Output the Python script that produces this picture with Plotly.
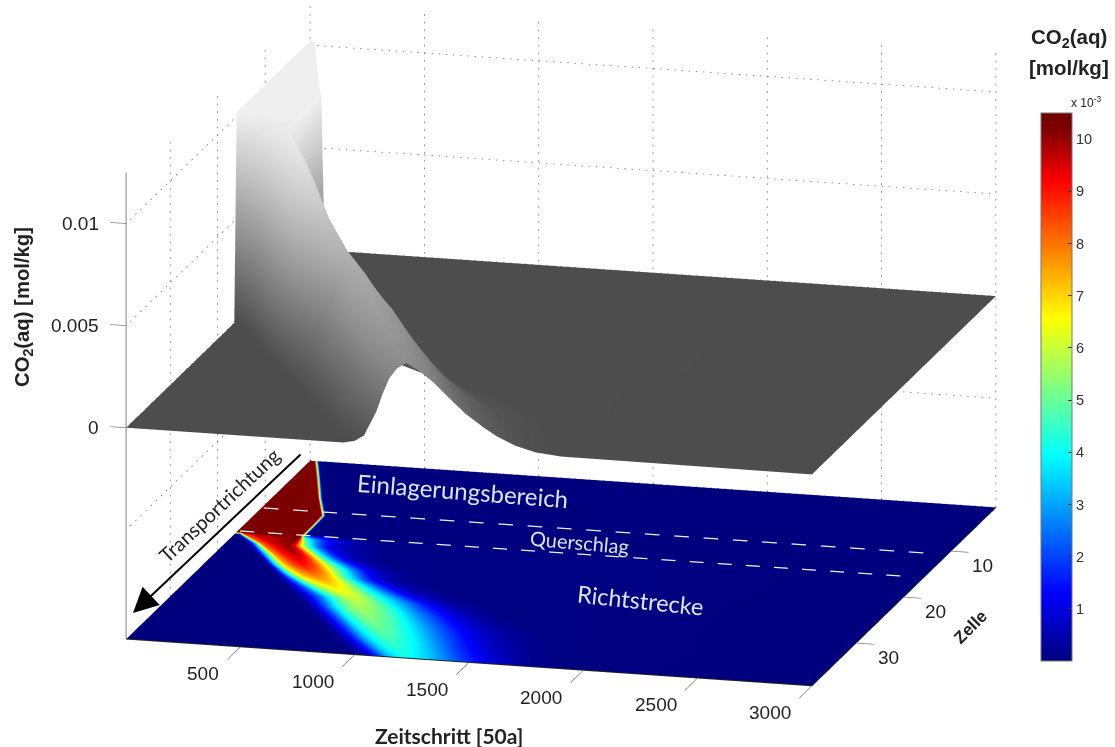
import numpy as np
import plotly.graph_objects as go

# ---------- data ----------
# One row per cell: the time steps and the concentration (1e-3 mol/kg) read along that cell.
CELLS = [0.5,4,8,11.5,14,15.5,16,16.5,18,20,22,24,26,28,30,33,36,39.3]
ROW_TIMES = [
 [0,2,3,4,5,6,7,10,19,39,40,41,42,43,44,47,52,57,3000],
 [0,15,16,17,19,23,27,40,100,120,121,122,123,124,125,128,133,138,3000],
 [0,20,21,22,24,28,32,50,190,210,211,212,213,214,215,218,223,228,3000],
 [0,20,21,22,24,28,32,50,277,297,298,299,300,301,302,305,310,315,3000],
 [0,20,21,22,24,28,32,50,280,300,301,302,303,304,305,308,313,318,3000],
 [0,20,21,22,24,28,32,50,280,300,301,302,303,304,305,308,313,318,3000],
 [0,20,21,22,24,28,32,50,280,282,284,288,292,298,325,390,470,620,3000],
 [0,20,22,25,32,40,50,100,280,287,292,302,313,347,380,438,535,660,3000],
 [0,82,90,102,125,135,150,200,265,295,307,332,355,385,412,458,548,680,3000],
 [0,164,172,182,210,228,250,295,345,385,410,438,458,493,520,565,620,730,3000],
 [0,246,255,265,290,310,335,375,420,470,505,550,590,630,665,715,785,900,3000],
 [0,328,340,355,385,405,430,465,520,570,605,645,680,720,755,810,885,1000,3000],
 [0,410,425,445,500,525,555,595,640,690,730,785,830,875,915,980,1070,1190,3000],
 [0,492,515,540,610,645,685,725,765,815,860,930,985,1045,1095,1165,1255,1380,3000],
 [0,574,600,625,680,715,750,795,840,905,970,1040,1095,1165,1225,1305,1405,1530,3000],
 [0,697,725,750,810,840,875,920,965,1030,1095,1175,1240,1315,1380,1480,1590,1740,3000],
 [0,820,850,875,935,965,1000,1040,1085,1150,1215,1295,1355,1430,1495,1590,1700,1850,3000],
 [0,950,1000,1040,1095,1120,1150,1185,1225,1275,1340,1420,1480,1560,1620,1705,1790,1900,3000],
]
ROW_VALUES = [
 [10.2,10.2,10.2,10.2,10.2,10.2,10.2,10.2,10.2,0,0,0,0,0,0,0,0,0,0],
 [10.2,10.2,10.2,10.2,10.2,10.2,10.2,10.2,10.2,0,0,0,0,0,0,0,0,0,0],
 [10.2,10.2,10.2,10.2,10.2,10.2,10.2,10.2,10.2,0,0,0,0,0,0,0,0,0,0],
 [10.2,10.2,10.2,10.2,10.2,10.2,10.2,10.2,10.2,0,0,0,0,0,0,0,0,0,0],
 [10.2,10.2,10.2,10.2,10.2,10.2,10.2,10.2,10.2,0,0,0,0,0,0,0,0,0,0],
 [10.2,10.2,10.2,10.2,10.2,10.2,10.2,10.2,10.2,0,0,0,0,0,0,0,0,0,0],
 [10.2,10.2,10.2,10.2,10.2,10.2,10.2,10.2,10.2,9.5,8.2,6.2,4.6,3.1,2.05,1.03,0.41,0.1,0],
 [0,0,0.31,1.02,4.1,6.1,8.2,9.5,10.2,9.5,8.2,6.2,4.6,3.1,2.05,1.03,0.41,0.1,0],
 [0,0,0.3,1.01,4.05,6.05,8.1,9.4,10.1,9.4,8.1,6.05,4.55,3.03,2.02,1.01,0.4,0.1,0],
 [0,0,0.29,0.97,3.88,5.82,7.76,9.02,9.7,9.02,7.76,5.82,4.37,2.91,1.94,0.97,0.39,0.097,0],
 [0,0,0.27,0.9,3.6,5.4,7.2,8.37,9,8.37,7.2,5.4,4.05,2.7,1.8,0.9,0.36,0.09,0],
 [0,0,0.23,0.78,3.12,4.68,6.24,7.25,7.8,7.25,6.24,4.68,3.51,2.34,1.56,0.78,0.31,0.078,0],
 [0,0,0.2,0.67,2.68,4.02,5.36,6.23,6.7,6.23,5.36,4.02,3.02,2.01,1.34,0.67,0.27,0.067,0],
 [0,0,0.18,0.6,2.4,3.6,4.8,5.58,6.0,5.58,4.8,3.6,2.7,1.8,1.2,0.6,0.24,0.06,0],
 [0,0,0.17,0.56,2.24,3.36,4.48,5.2,5.6,5.2,4.48,3.36,2.52,1.68,1.12,0.56,0.22,0.056,0],
 [0,0,0.15,0.51,2.04,3.06,4.08,4.74,5.1,4.74,4.08,3.06,2.3,1.53,1.02,0.51,0.2,0.051,0],
 [0,0,0.14,0.46,1.84,2.76,3.68,4.28,4.6,4.28,3.68,2.76,2.07,1.38,0.92,0.46,0.18,0.046,0],
 [0,0,0.12,0.41,1.64,2.46,3.28,3.81,4.1,3.81,3.28,2.46,1.85,1.23,0.82,0.41,0.16,0.041,0],
]
TIME_TICKS = [500,1000,1500,2000,2500,3000]
CELL_TICKS = [10,20,30]
Z_TICKS = [0,0.005,0.01]
Z_TICK_LABELS = ["0","0.005","0.01"]
Z_GRID = [-0.005,0,0.005,0.01]
CBAR_TICKS = [1,2,3,4,5,6,7,8,9,10]
CMAX = 10.5
QUERSCHLAG_CELLS = [11,16]

FLOOR = -0.01035
TOP = 0.0122
AXTOP = 0.0125
T0, T1 = 0, 3000
C0, C1 = 0.5, 39.3

JET = [[0,"#00007f"],[0.125,"#0000ff"],[0.375,"#00ffff"],[0.625,"#ffff00"],[0.875,"#ff0000"],[0.97,"#7f0000"],[1,"#6f0000"]]
GRAY = [[0,"#4d4d4d"],[1,"#f4f4f4"]]
FLAT = dict(ambient=1,diffuse=0,specular=0,roughness=1,fresnel=0)

T = np.array(ROW_TIMES,float)
V = np.array(ROW_VALUES,float)
C = np.array([[c]*T.shape[1] for c in CELLS],float)

fig = go.Figure()
fig.add_surface(x=T,y=C,z=V/1000,surfacecolor=V,colorscale=GRAY,cmin=0,cmax=CMAX,
                showscale=False,lighting=FLAT,hoverinfo="skip")
fig.add_surface(x=T,y=C,z=np.full(V.shape,FLOOR),surfacecolor=V,colorscale=JET,cmin=0,cmax=CMAX,
                lighting=FLAT,hoverinfo="skip",
                colorbar=dict(x=1041/1115,xanchor="left",xpad=0,ypad=0,y=86/747,yanchor="bottom",
                              len=548/747,lenmode="fraction",thickness=31,thicknessmode="pixels",
                              tickvals=CBAR_TICKS,ticks="inside",ticklen=4,tickcolor="#333",
                              tickfont=dict(family="Liberation Sans",size=14.5,color="#333"),
                              outlinecolor="#777",outlinewidth=1))

def line(xs,ys,zs,color="#555555",width=1.5,dash="solid"):
    fig.add_scatter3d(x=xs,y=ys,z=zs,mode="lines",line=dict(color=color,width=width,dash=dash),
                      showlegend=False,hoverinfo="skip",connectgaps=False)

def broken(a,b,n,fill,color,width):
    """n separated pieces between points a and b, each covering `fill` of its period."""
    a,b = np.array(a,float),np.array(b,float)
    xs,ys,zs = [],[],[]
    for k in range(n):
        p = a+(b-a)*k/n
        q = a+(b-a)*(k+fill)/n
        xs += [p[0],q[0],None]; ys += [p[1],q[1],None]; zs += [p[2],q[2],None]
    line(xs,ys,zs,color,width)

DOT = "#666666"
# dotted walls
for t in [T0]+TIME_TICKS:
    broken((t,C0,FLOOR),(t,C0,TOP),60,0.22,DOT,1.5)
for c in CELL_TICKS:
    broken((T0,c,FLOOR),(T0,c,TOP),60,0.22,DOT,1.5)
for z in Z_GRID:
    broken((T0,C0,z),(T1,C0,z),96,0.2,DOT,1.5)
    broken((T0,C0,z),(T0,C1,z),36,0.22,DOT,1.5)
broken((T0,C0,FLOOR),(T1,C0,FLOOR),96,0.2,DOT,1.5)

# axes and ticks
AX = "#808080"
line([T0,T0],[C1,C1],[FLOOR,AXTOP],AX,2)
line([T0,T1],[C1,C1],[FLOOR,FLOOR],"#222222",2)
line([T1,T1],[C0,C1],[FLOOR,FLOOR],"#222222",2)
for t in TIME_TICKS:
    line([t,t],[C1,C1+2.7],[FLOOR,FLOOR],AX,1.5)
for c in CELL_TICKS:
    line([T1,T1+78],[c,c],[FLOOR,FLOOR],AX,1.5)
for z in Z_TICKS:
    line([T0,T0-70],[C1,C1],[z,z],AX,1.5)

# Querschlag boundaries
broken((15,QUERSCHLAG_CELLS[0],FLOOR+0.00006),(2965,QUERSCHLAG_CELLS[0],FLOOR+0.00006),23,0.5,"#f0f0f0",2.5)
broken((15,QUERSCHLAG_CELLS[1],FLOOR+0.00006),(2965,QUERSCHLAG_CELLS[1],FLOOR+0.00006),24,0.5,"#f0f0f0",2.5)

AF = dict(family="Liberation Sans",size=19,color="#222222")
scene_ann = []
for t in TIME_TICKS:
    scene_ann.append(dict(x=t,y=C1,z=FLOOR,text=str(t),showarrow=False,xanchor="right",xshift=-19,yshift=-27,font=AF))
for c in CELL_TICKS:
    scene_ann.append(dict(x=T1,y=c,z=FLOOR,text=str(c),showarrow=False,xshift=32,yshift=-14,font=AF))
for z,s in zip(Z_TICKS,Z_TICK_LABELS):
    scene_ann.append(dict(x=T0,y=C1,z=z,text=s,showarrow=False,xanchor="right",xshift=-25,font=AF))

def px(x,y):
    return x/1115, 1-y/747

def ann(x,y,text,size,color="#222222",angle=0,family="Liberation Sans"):
    ax,ay = px(x,y)
    return dict(x=ax,y=ay,xref="paper",yref="paper",text=text,showarrow=False,textangle=angle,
                xanchor="center",yanchor="middle",font=dict(family=family,size=size,color=color))

anns = [
    ann(449,735,"<b>Zeitschritt [50a]</b>",21,family="Lato"),
    ann(970,627,"<b>Zelle</b>",17,angle=-45),
    ann(23,307,"<b>CO<sub>2</sub>(aq) [mol/kg]</b>",20.3,angle=-90),
    ann(1069,38,"<b>CO<sub>2</sub>(aq)</b>",20.5),
    ann(1069,67,"<b>[mol/kg]</b>",20.5),
    ann(1086,102,"x 10<sup>-3</sup>",12),
    ann(463,490,"Einlagerungsbereich",24,"#dbe6f8",4.5,"Lato"),
    ann(580,542,"Querschlag",20,"#dbe6f8",5,"Lato"),
    ann(640,600,"Richtstrecke",23.5,"#dbe6f8",6,"Lato"),
    ann(219,505,"Transportrichtung",20,"#222222",-43,"Lato"),
]
tipx,tipy = px(133,613)
anns.append(dict(x=tipx,y=tipy,xref="paper",yref="paper",ax=169,ay=-160,axref="pixel",ayref="pixel",
                 text="",showarrow=True,arrowhead=2,arrowsize=2.5,arrowwidth=2,arrowcolor="#000000"))

RX,RY,RZ = [-100,3100],[42.2,0],[-0.0108,0.0128]
hidden = dict(visible=False,showgrid=False,zeroline=False,showticklabels=False,showspikes=False,showbackground=False)
CENTER = np.array([0.006,0,-0.073])
EYE = CENTER+np.array([0.2477,-0.9342,0.2571])*2.0
fig.update_layout(
    width=1115,height=747,margin=dict(l=0,r=0,t=0,b=0),paper_bgcolor="white",
    annotations=anns,showlegend=False,
    scene=dict(
        domain=dict(x=[0,1],y=[0,1]),
        xaxis=dict(range=RX,**hidden),yaxis=dict(range=RY,**hidden),zaxis=dict(range=RZ,**hidden),
        aspectmode="manual",aspectratio=dict(x=2.026,y=2.09,z=1.335),
        camera=dict(eye=dict(x=float(EYE[0]),y=float(EYE[1]),z=float(EYE[2])),
                    center=dict(x=float(CENTER[0]),y=float(CENTER[1]),z=float(CENTER[2])),up=dict(x=0,y=0,z=1),
                    projection=dict(type="orthographic")),
        annotations=scene_ann,
    ),
)
fig.write_html("out.html",post_script="document.body.style.margin='0';",config=dict(displayModeBar=False))
